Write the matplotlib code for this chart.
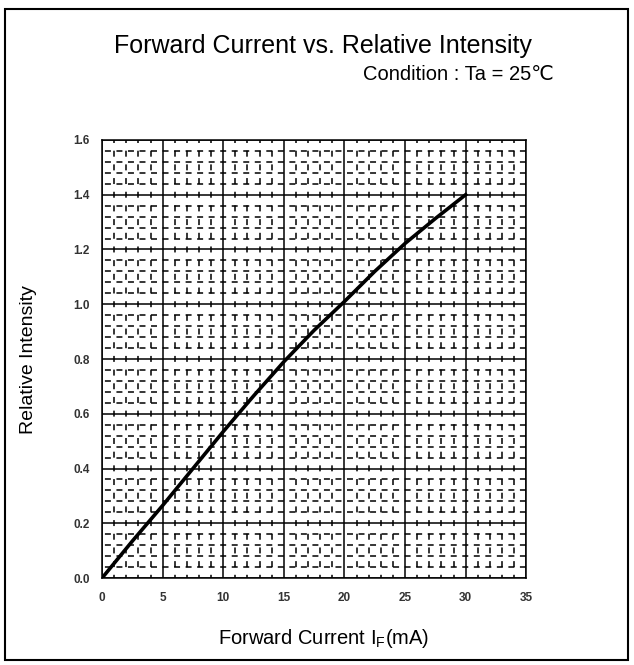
import matplotlib.pyplot as plt
from matplotlib.patches import Rectangle
import numpy as np

plt.rcParams['font.family'] = ['Liberation Sans', 'DejaVu Sans']
plt.rcParams['lines.scale_dashes'] = False

# data
current_ma = [0, 2.5, 5, 7.5, 10, 12.5, 15, 17.5, 20, 22.5, 25, 27.5, 30]
intensity = [0, 0.135, 0.265, 0.40, 0.535, 0.665, 0.79, 0.905, 1.01, 1.12, 1.222, 1.313, 1.40]

x_ticks = [0, 5, 10, 15, 20, 25, 30, 35]
y_ticks = [0.0, 0.2, 0.4, 0.6, 0.8, 1.0, 1.2, 1.4, 1.6]

fig = plt.figure(figsize=(6.34, 6.65), dpi=100)
ax = fig.add_axes([0.161, 0.1308, 0.669, 0.6587])

# outer frame
fig.patches.append(Rectangle((0.008, 0.007), 0.983, 0.98, transform=fig.transFigure,
                             fill=False, edgecolor='black', linewidth=1.5))

ax.set_xlim(0, 35)
ax.set_ylim(0, 1.6)
ax.set_xticks(x_ticks)
ax.set_yticks(y_ticks)
ax.set_yticklabels([f'{v:.1f}' for v in y_ticks])
ax.set_xticks(np.arange(0, 36, 1), minor=True)
ax.set_yticks(np.arange(0, 1.61, 0.04), minor=True)
ax.tick_params(which='both', length=0)
ax.tick_params(axis='x', pad=10)
ax.tick_params(axis='y', pad=9)
tick_font = ['Liberation Sans Narrow', 'DejaVu Sans Condensed', 'Liberation Sans']
for lab in ax.get_xticklabels() + ax.get_yticklabels():
    lab.set_family(tick_font)
    lab.set_fontsize(8.5)
    lab.set_fontweight('bold')
    lab.set_color('#333333')

ax.grid(which='major', color='black', linewidth=1.1)
# dashed minor grid, like the scanned datasheet pattern
ax.xaxis.grid(which='minor', color='black', linewidth=1.1, linestyle=(2.0, (4.3, 5.55)))
ax.yaxis.grid(which='minor', color='black', linewidth=1.1, linestyle=(6.2, (4.3, 4.0)))
ax.set_axisbelow(True)
for s in ax.spines.values():
    s.set_linewidth(1.1)

ax.plot(current_ma, intensity, color='black', linewidth=2.6)

fig.text(0.51, 0.04, 'Forward Current I$_\\mathregular{F}$(mA)', fontsize=14.5,
         ha='center', va='center')
fig.text(0.045, 0.46, 'Relative Intensity', fontsize=14, rotation=90,
         ha='center', va='center')

fig.text(0.5095, 0.920, 'Forward Current vs. Relative Intensity', fontsize=18,
         ha='center', va='baseline')
fig.text(0.5726, 0.8797, 'Condition : Ta = 25\u2103', fontsize=14.5,
         ha='left', va='baseline')

fig.savefig('out.png', dpi=100)
